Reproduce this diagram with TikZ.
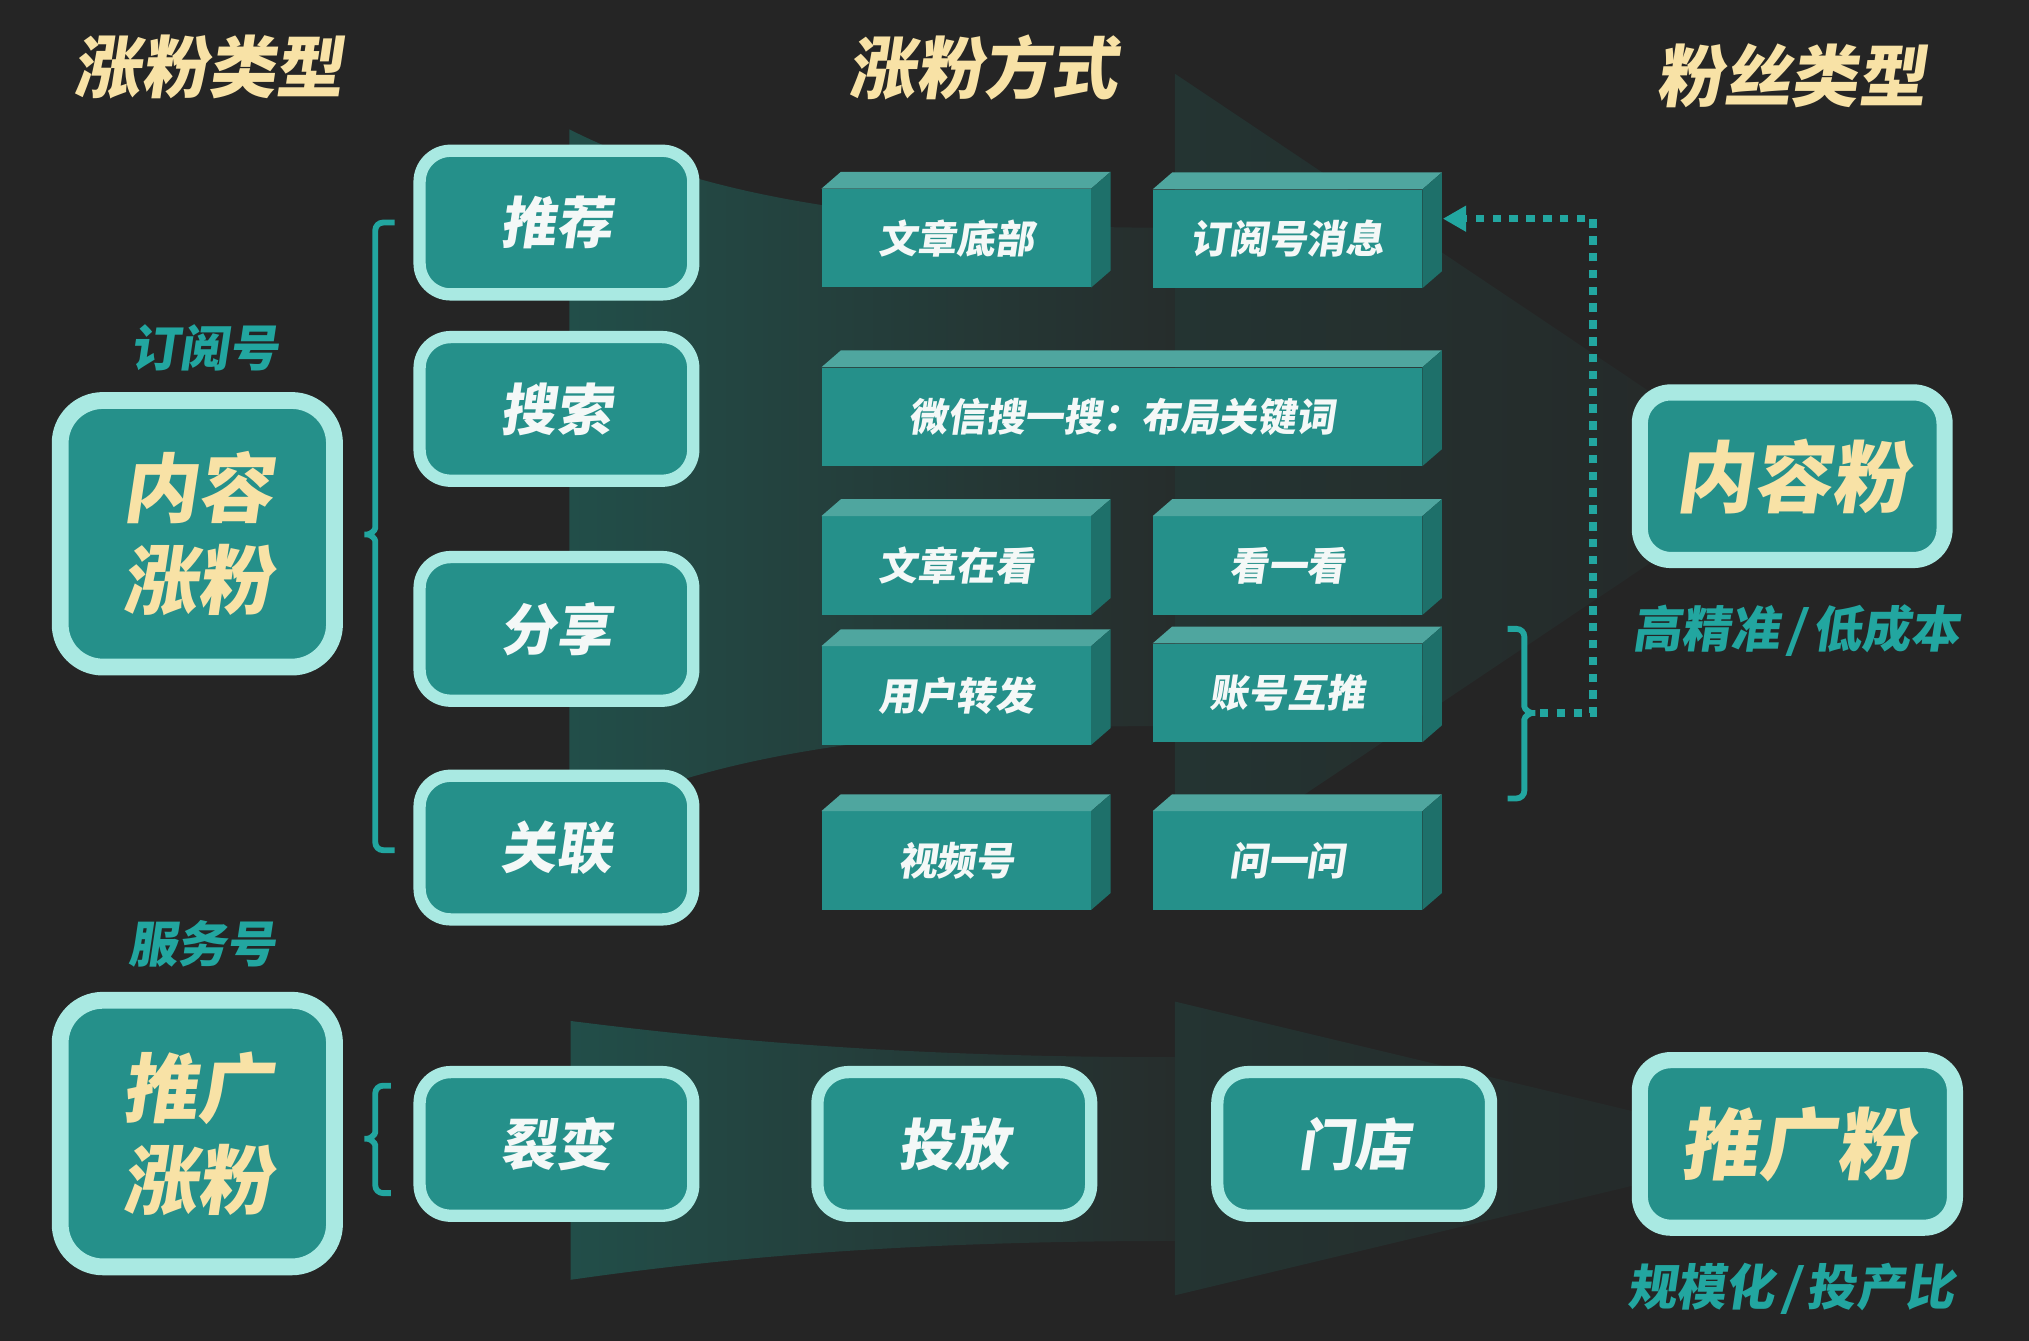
\documentclass[tikz,border=0pt]{standalone}
\usepackage{fontspec}
\newfontfamily\cjk{Noto Sans CJK SC}[FakeSlant=0.15]
\usetikzlibrary{arrows.meta}
\definecolor{bg}{RGB}{37,37,37}
\definecolor{mint}{RGB}{169,233,226}
\definecolor{boxteal}{RGB}{37,144,138}
\definecolor{cubetop}{RGB}{79,166,159}
\definecolor{cubeside}{RGB}{30,112,106}
\definecolor{cream}{RGB}{248,226,166}
\definecolor{tealtxt}{RGB}{34,166,160}
\definecolor{textwhite}{RGB}{244,248,247}
\definecolor{funL}{RGB}{34,78,73}
\definecolor{funR}{RGB}{38,45,44}
\definecolor{headL}{RGB}{36,52,50}
\definecolor{headR}{RGB}{38,40,40}
\newcommand\cubefaces[1]{%
  \fill[cubetop] (#1.north west) -- ([shift={(15,-13)}]#1.north west) -- ([shift={(15,-13)}]#1.north east) -- (#1.north east) -- cycle;
  \fill[cubeside] (#1.north east) -- ([shift={(15,-13)}]#1.north east) -- ([shift={(15,-13)}]#1.south east) -- (#1.south east) -- cycle;}
\newcommand\slashsep{\hspace{5pt}/\hspace{5pt}}
\tikzset{
  title/.style={inner sep=0pt, text=cream, font=\fontsize{52}{52}\selectfont\cjk\bfseries},
  label/.style={inner sep=0pt, text=tealtxt, font=\fontsize{38}{38}\selectfont\cjk\bfseries},
  rbox/.style={draw=mint, fill=boxteal, line width=9.5pt, rounded corners=24pt,
    minimum width=211.5pt, minimum height=111pt, inner sep=0pt, text=textwhite,
    font=\fontsize{43}{43}\selectfont\cjk\bfseries},
  bigbox/.style={draw=mint, fill=boxteal, line width=13pt, rounded corners=33pt,
    minimum width=212pt, minimum height=206pt, inner sep=0pt, text=cream, align=center,
    font=\fontsize{58}{71}\selectfont\cjk\bfseries},
  fanbox/.style={draw=mint, fill=boxteal, line width=12.5pt, rounded corners=24pt,
    minimum height=129.5pt, inner sep=0pt, text=cream,
    font=\fontsize{60}{60}\selectfont\cjk\bfseries},
  cubebox/.style={fill=boxteal, minimum width=208pt, minimum height=76pt, inner sep=0pt,
    text=textwhite, font=\fontsize{30}{30}\selectfont\cjk\bfseries},
  brk/.style={draw=tealtxt, line width=4.5pt, rounded corners=6pt},
  dotarrow/.style={draw=tealtxt, line width=5.5pt, dash pattern=on 6.5pt off 6.5pt,
    -{Triangle[length=18pt,width=19pt,fill=tealtxt]}}
}
\begin{document}
\begin{tikzpicture}[x=1pt,y=-1pt]
\useasboundingbox (0,0) rectangle (1568,1036.3);
\fill[bg] (0,0) rectangle (1568,1036.3);
% funnels
\shade[left color=funL, right color=funR]
  (440,100) .. controls (520,140) and (640,176) .. (908,176) -- (908,561)
  .. controls (640,561) and (520,597) .. (440,637) -- cycle;
\shade[left color=headL, right color=headR] (908,57) -- (1374,369) -- (908,681) -- cycle;
\shade[left color=funL, right color=funR]
  (441,789) .. controls (560,804) and (700,817) .. (908,817) -- (908,959)
  .. controls (700,959) and (560,972) .. (441,989) -- cycle;
\shade[left color=headL, right color=headR] (908,774) -- (1382,887.5) -- (908,1001) -- cycle;
% titles
\node[title] (t1) at (161,52) {涨粉类型};
\node[title] (t2) at (760,52) {涨粉方式};
\node[title] (t3) at (1384,58.5) {粉丝类型};
% left column
\node[label] (l1) at (158,269) {订阅号};
\node[bigbox] (nr) at (152.5,412.5) {内容\\涨粉};
\node[label] (l2) at (156,729) {服务号};
\node[bigbox] (tg) at (152.5,876) {推广\\涨粉};
% middle rounded boxes
\node[rbox] (tj) at (430,172) {推荐};
\node[rbox] (ss) at (430,316) {搜索};
\node[rbox] (fx) at (430,486) {分享};
\node[rbox] (gl) at (430,655) {关联};
\node[rbox] (lb) at (430,884) {裂变};
\node[rbox] (tf) at (737.5,884) {投放};
\node[rbox] (md) at (1046.5,884) {门店};
% cubes
\node[cubebox] (cA) at (739,184) {文章底部};
\node[cubebox] (cB) at (995,184.5) {订阅号消息};
\node[cubebox, minimum width=464pt] (cC) at (867,322) {微信搜一搜：布局关键词};
\node[cubebox] (cD) at (739,437) {文章在看};
\node[cubebox] (cE) at (995,437) {看一看};
\node[cubebox] (cF) at (739,537.5) {用户转发};
\node[cubebox] (cG) at (995,535.4) {账号互推};
\node[cubebox] (cH) at (739,665) {视频号};
\node[cubebox] (cI) at (995,665) {问一问};
\cubefaces{cA}\cubefaces{cB}\cubefaces{cC}\cubefaces{cD}\cubefaces{cE}
\cubefaces{cF}\cubefaces{cG}\cubefaces{cH}\cubefaces{cI}
% right column
\node[fanbox, minimum width=235.5pt] (nrf) at (1385,368) {内容粉};
\node[label] (l3) at (1388,487.5) {高精准\slashsep 低成本};
\node[fanbox, minimum width=243.5pt] (tgf) at (1389,884) {推广粉};
\node[label] (l4) at (1384,995.6) {规模化\slashsep 投产比};
% brackets
\draw[brk] (305,172) -- (290,172) -- (290,402)
  .. controls (290,410) and (286,413) .. (278,413)
  .. controls (286,413) and (290,416) .. (290,424) -- (290,657) -- (305,657);
\draw[brk] (302,839) -- (290,839) -- (290,869)
  .. controls (290,877) and (286,880) .. (278,880)
  .. controls (286,880) and (290,883) .. (290,891) -- (290,922) -- (302,922);
\draw[brk] (1165,486) -- (1178,486) -- (1178,540)
  .. controls (1178,548) and (1182,551) .. (1190,551)
  .. controls (1182,551) and (1178,554) .. (1178,562) -- (1178,617) -- (1165,617);
% dotted arrow
\coordinate (rbtip) at (1190,551);
\coordinate (dcorner) at (1231,169);
\coordinate (arrtip) at (1115,169);
\draw[dotarrow] (rbtip) -| (dcorner) -- (arrtip);
\end{tikzpicture}
\end{document}
